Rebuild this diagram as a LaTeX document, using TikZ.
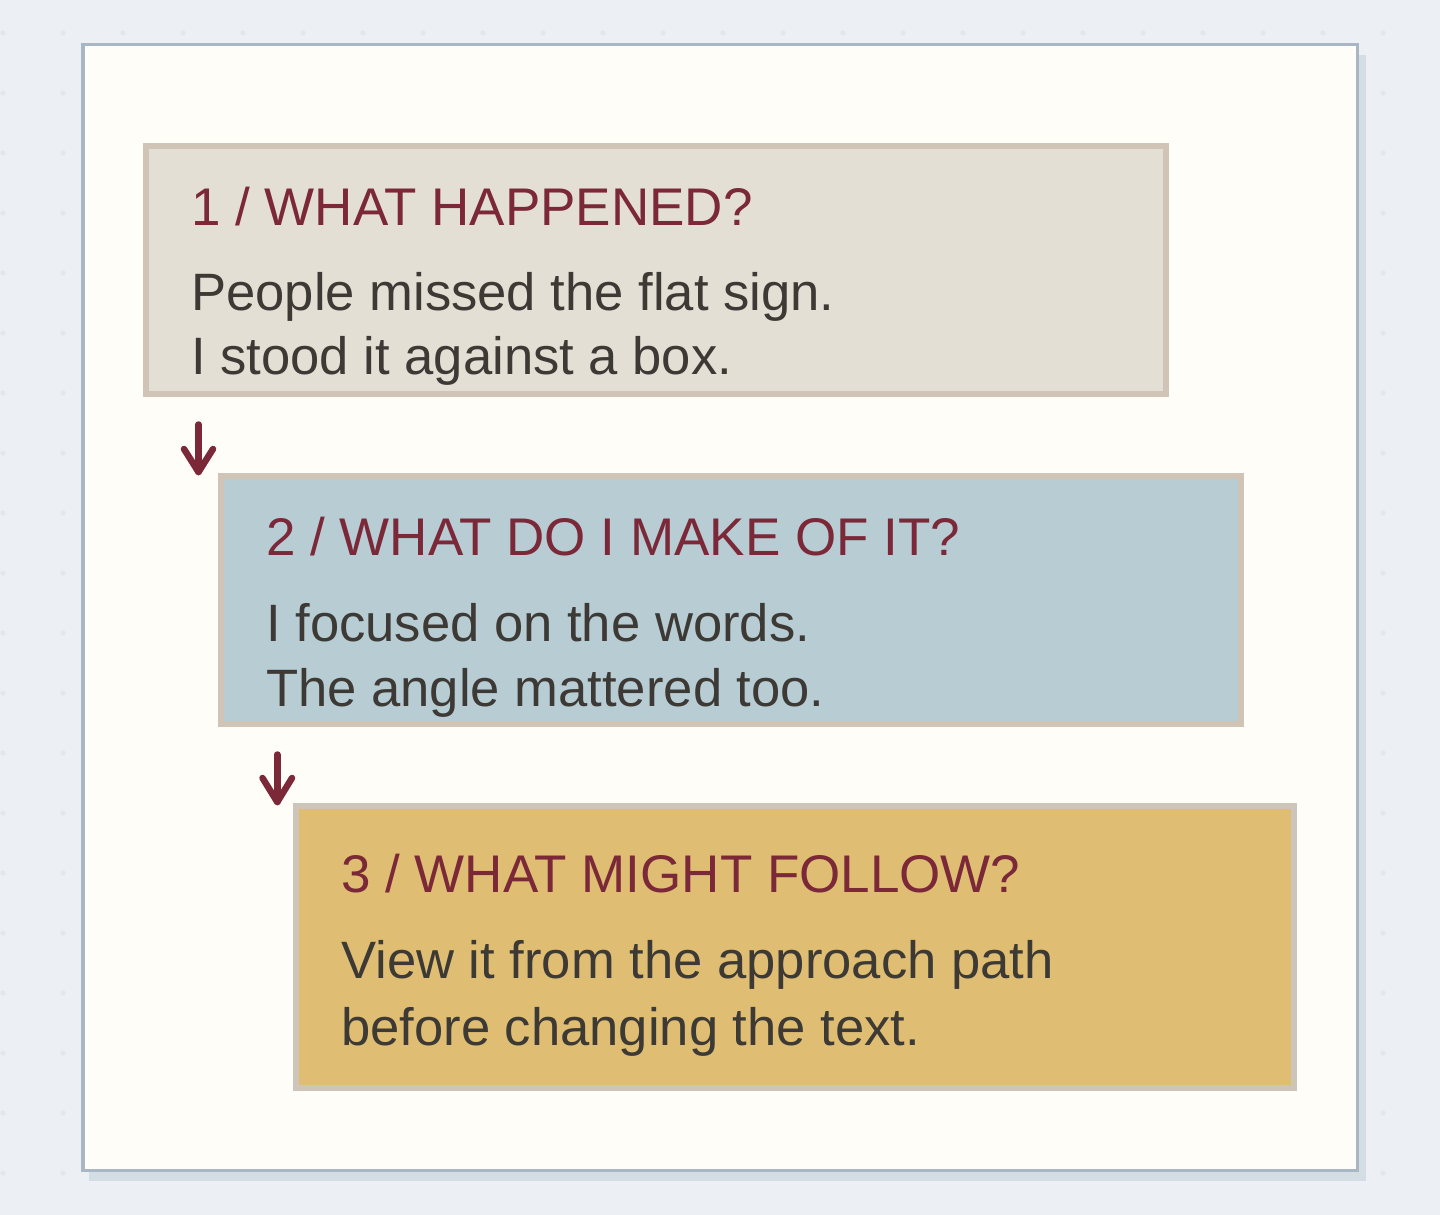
\documentclass[tikz,border=0pt]{standalone}
\usepackage{fontspec}
\setmainfont{Liberation Sans}
\definecolor{bg}{HTML}{ECF0F5}
\definecolor{dotc}{HTML}{E2E7ED}
\definecolor{shadowc}{HTML}{D4DCE4}
\definecolor{framec}{HTML}{A9B6C3}
\definecolor{paper}{HTML}{FFFDF7}
\definecolor{boxedge}{HTML}{D0C4B6}
\definecolor{boxedgeb}{HTML}{CEC5BA}
\definecolor{fillA}{HTML}{E3DFD5}
\definecolor{fillB}{HTML}{B8CCD4}
\definecolor{fillC}{HTML}{DFBE74}
\definecolor{titlec}{HTML}{7B2838}
\definecolor{bodyc}{HTML}{3D3A35}
\begin{document}
\begin{tikzpicture}[x=1pt,y=-1pt,
  stepbox/.style={draw=boxedge, line width=5.5pt, inner sep=0pt, anchor=north west},
  titletext/.style={anchor=base west, inner sep=0pt, text=titlec, font=\fontsize{53}{64}\selectfont},
  bodytext/.style={anchor=base west, inner sep=0pt, text=bodyc, font=\fontsize{52.6}{64}\selectfont},
  arrowline/.style={draw=titlec, line width=6.5pt, line cap=round, line join=round}]
\useasboundingbox (0,0) rectangle (1440,1215);
\fill[bg] (0,0) rectangle (1440,1215);
\foreach \i in {0,...,23} {\foreach \j in {0,...,19} {\fill[dotc] (3+60*\i,33+60*\j) circle (2.6pt);}}
% shadow and frame
\fill[shadowc] (89,55) rectangle (1366,1181);
\node[draw=framec, fill=paper, line width=3.5pt, inner sep=0pt, anchor=north west,
      minimum width=1274.5pt, minimum height=1125.5pt] (frame) at (81,43) {};
% boxes
\node[stepbox, fill=fillA, minimum width=1020pt, minimum height=248pt] (b1) at (143,143) {};
\node[stepbox, fill=fillB, minimum width=1020pt, minimum height=248pt] (b2) at (218,473) {};
\node[stepbox, draw=boxedgeb, fill=fillC, minimum width=998pt, minimum height=282pt] (b3) at (293,803) {};
% texts
\node[titletext] (t1) at (191,225) {1 / WHAT HAPPENED?};
\node[bodytext] (l1a) at (191,310.5) {People missed the flat sign.};
\node[bodytext] (l1b) at (191,374.5) {I stood it against a box.};
\node[titletext] (t2) at (266,555) {2 / WHAT DO I MAKE OF IT?};
\node[bodytext] (l2a) at (266,641.7) {I focused on the words.};
\node[bodytext] (l2b) at (266,706) {The angle mattered too.};
\node[titletext] (t3) at (341,892.7) {3 / WHAT MIGHT FOLLOW?};
\node[bodytext] (l3a) at (341,978.3) {View it from the approach path};
\node[bodytext] (l3b) at (341,1045) {before changing the text.};
% arrows
\coordinate (a1top) at (198.5,424.5);
\coordinate (a1tip) at (198.5,472);
\coordinate (a1l) at (184,449);
\coordinate (a1r) at (213,449);
\draw[arrowline] (a1top) -- (a1tip);
\draw[arrowline] (a1l) -- (a1tip) -- (a1r);
\coordinate (a2top) at (277.3,754.5);
\coordinate (a2tip) at (277.3,802);
\coordinate (a2l) at (262.5,778);
\coordinate (a2r) at (292,778);
\draw[arrowline] (a2top) -- (a2tip);
\draw[arrowline] (a2l) -- (a2tip) -- (a2r);
\end{tikzpicture}
\end{document}
